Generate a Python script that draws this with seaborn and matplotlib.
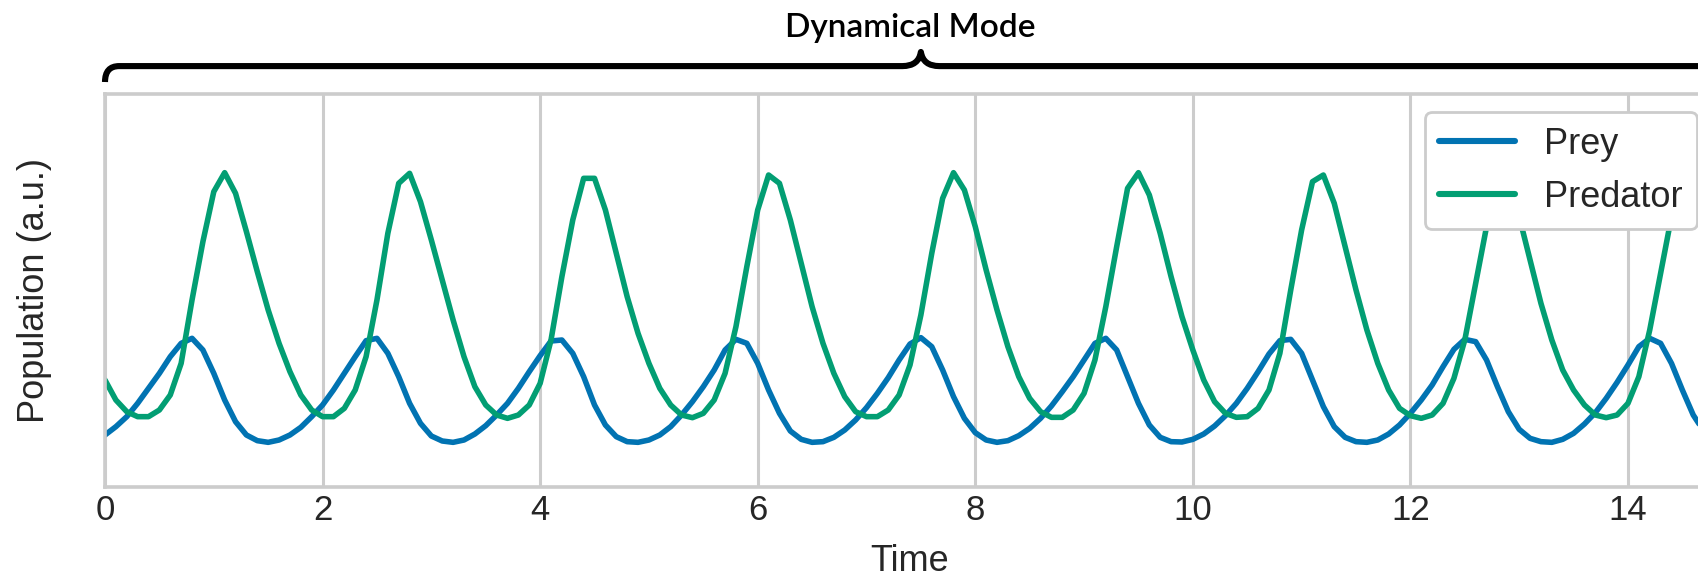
import numpy as np
import pandas as pd
import seaborn as sns
import matplotlib.pyplot as plt
import matplotlib.transforms as mtransforms
from matplotlib.path import Path
from matplotlib.patches import PathPatch

# ---- data (arbitrary units) ----
time = np.round(np.arange(0, 14.95, 0.1), 1)

prey = [156, 181, 211, 251, 296, 341, 391, 431, 446, 411,
        341, 261, 196, 156, 139, 134, 141, 156, 179, 211,
        246, 291, 341, 391, 439, 446, 401, 331, 251, 191,
        153, 138, 134, 141, 159, 184, 216, 251, 296, 346,
        394, 438, 441, 401, 331, 246, 186, 151, 136, 134,
        141, 156, 181, 216, 256, 301, 351, 411, 443, 431,
        371, 291, 221, 168, 143, 134, 136, 149, 171, 201,
        238, 281, 328, 381, 429, 448, 421, 351, 271, 206,
        163, 141, 134, 139, 154, 176, 206, 243, 286, 331,
        381, 431, 446, 411, 331, 251, 186, 149, 136, 135,
        143, 159, 183, 214, 251, 296, 346, 399, 439, 443,
        401, 321, 241, 181, 149, 136, 134, 141, 159, 186,
        221, 261, 306, 361, 413, 443, 436, 381, 301, 226,
        173, 146, 136, 134, 143, 161, 189, 223, 266, 314,
        366, 421, 446, 431, 371, 291, 216, 166, 141, 134]

predator = [321, 261, 226, 211, 211, 231, 276, 371, 561, 736,
            886, 943, 881, 766, 646, 531, 431, 346, 276, 231,
            211, 211, 236, 291, 391, 561, 761, 911, 941, 856,
            741, 621, 501, 391, 301, 246, 216, 206, 216, 246,
            311, 441, 631, 801, 926, 926, 831, 701, 571, 461,
            371, 296, 246, 216, 208, 221, 261, 341, 481, 661,
            831, 936, 911, 801, 671, 541, 431, 341, 271, 226,
            211, 211, 231, 276, 366, 516, 701, 866, 943, 891,
            781, 651, 531, 421, 331, 266, 226, 209, 209, 231,
            281, 381, 541, 721, 896, 943, 876, 761, 631, 511,
            411, 321, 256, 221, 209, 211, 236, 291, 401, 591,
            771, 916, 936, 851, 721, 591, 471, 371, 291, 236,
            214, 206, 216, 251, 326, 441, 611, 781, 931, 916,
            811, 681, 551, 441, 351, 291, 246, 216, 208, 216,
            251, 331, 471, 641, 811, 931, 921, 821, 691, 561]

series_names = ["Prey", "Predator"]
colors = ["#0173b2", "#029e73"]
xticks = [0, 2, 4, 6, 8, 10, 12, 14]
brace_span = [0, 15]
brace_label = "Dynamical Mode"

df = pd.DataFrame({"Time": time, "Prey": prey, "Predator": predator})
long = df.melt(id_vars="Time", var_name="Species", value_name="Population")

# ---- style ----
sns.set_theme(style="whitegrid", context="notebook")
plt.rcParams["font.family"] = ["Liberation Sans", "DejaVu Sans"]
plt.rcParams["axes.edgecolor"] = "#cccccc"
plt.rcParams["grid.color"] = "#cccccc"

W, H, DPI = 1698, 577, 200
fig = plt.figure(figsize=(W / DPI, H / DPI), dpi=DPI)
ax = fig.add_axes([105 / W, 90 / H, 1610 / W, 393 / H])

sns.lineplot(data=long, x="Time", y="Population", hue="Species",
             hue_order=series_names, palette=colors, linewidth=2.0, ax=ax)

ax.set_xlim(0, 14.8)
ax.set_ylim(0, 1179)
ax.set_xticks(xticks)
ax.set_yticks([])
ax.tick_params(axis="x", labelsize=12.5, colors="#262626", size=0, pad=2.5)
ax.set_xlabel("Time", fontsize=13, color="#262626", labelpad=6.0)
ax.set_ylabel("Population (a.u.)", fontsize=13, color="#262626", labelpad=19)
ax.grid(axis="x", color="#cccccc", linewidth=1.1)
for s in ax.spines.values():
    s.set_color("#cccccc")
    s.set_linewidth(1.3)

leg = ax.legend(loc="upper right", fontsize=13, frameon=True, framealpha=1,
                borderaxespad=0.5, handlelength=2.1)
leg.get_frame().set_edgecolor("#cccccc")
leg.get_frame().set_linewidth(1.0)
for line in leg.get_lines():
    line.set_linewidth(2.2)

# ---- brace annotation over the data span ----
trans = mtransforms.blended_transform_factory(ax.transData, ax.transAxes)
x0, x1 = brace_span
xm = (x0 + x1) / 2
yb, ye, yt = 1.071, 1.0305, 1.107
rx = 0.13
cw = 0.17
verts = [(x0, ye), (x0, yb), (x0 + rx, yb),
         (xm - cw, yb),
         (xm - 0.02, yb), (xm, yt),
         (xm + 0.02, yb), (xm + cw, yb),
         (x1 - rx, yb),
         (x1, yb), (x1, ye)]
codes = [Path.MOVETO, Path.CURVE3, Path.CURVE3,
         Path.LINETO,
         Path.CURVE3, Path.CURVE3,
         Path.CURVE3, Path.CURVE3,
         Path.LINETO,
         Path.CURVE3, Path.CURVE3]
brace = PathPatch(Path(verts, codes), transform=trans, fill=False,
                  edgecolor="black", linewidth=2.2, clip_on=False,
                  capstyle="butt", joinstyle="round")
ax.add_patch(brace)
ax.text(0.5, 1.145, brace_label, transform=ax.transAxes, ha="center",
        va="baseline", fontsize=12, fontweight="semibold",
        family=["Lato", "DejaVu Sans"], color="black")

fig.savefig("out.png", dpi=DPI)
